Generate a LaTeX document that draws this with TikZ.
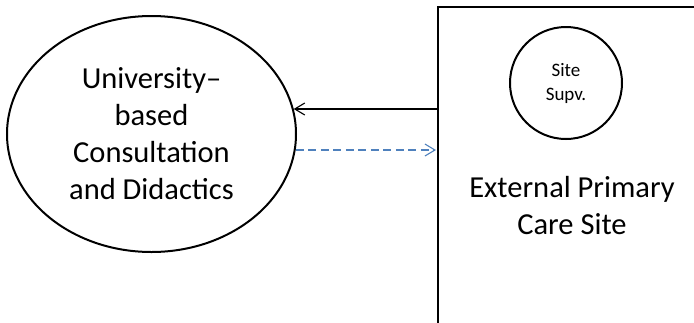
\documentclass[tikz,border=0pt]{standalone}
\usepackage{fontspec}
\setmainfont{Carlito}
\usetikzlibrary{arrows.meta,shapes.geometric}
\definecolor{dashblue}{RGB}{79,129,189}
\begin{document}
\begin{tikzpicture}[x=1pt,y=-1pt,
  bigtext/.style={font=\fontsize{30.5}{37}\selectfont},
  boxline/.style={draw,line width=2pt},
  solidarrow/.style={line width=1.1pt,-{Straight Barb[length=10pt,width=12pt,line width=1.1pt]}},
  dasharrow/.style={line width=1.1pt,draw=dashblue,dash pattern=on 8pt off 4.5pt,-{Straight Barb[length=10pt,width=12pt,line width=1.1pt]}}]
\useasboundingbox (0,0) rectangle (694,322);
\clip (0,0) rectangle (694,322);
\node[boxline, ellipse, minimum width=289pt, minimum height=236pt, inner sep=0pt, align=center, bigtext] (uni) at (151.5,134) {University–\\based\\Consultation\\and Didactics};
\node[boxline, line width=2.2pt, rectangle, minimum width=320pt, minimum height=360pt, anchor=north west, inner sep=0pt] (site) at (437,6) {};
\node[boxline, circle, minimum size=112pt, inner sep=0pt, align=center, font=\fontsize{19}{24}\selectfont] (supv) at (566,83) {Site\\Supv.};
\node[align=center, bigtext, inner sep=0pt] (ext) at (572,206) {External Primary\\Care Site};
\coordinate (r1) at (437,109);
\coordinate (r2) at (436,150);
\draw[solidarrow] (r1) -- (r1 -| uni.10);
\draw[dasharrow] (r2 -| uni.-6.4) -- (r2);
\end{tikzpicture}
\end{document}
